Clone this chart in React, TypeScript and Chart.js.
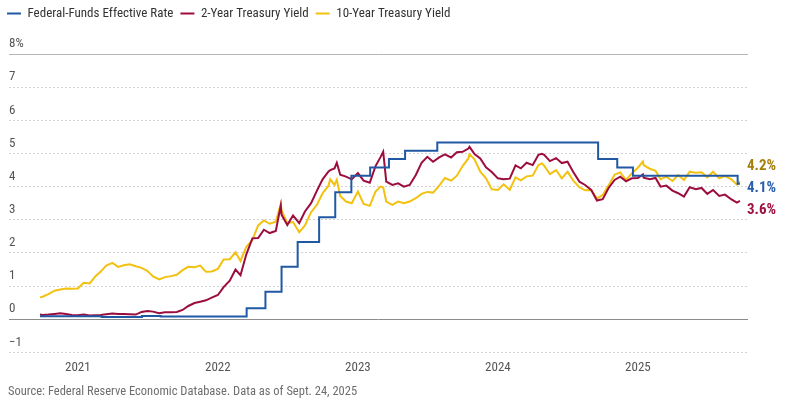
import { useEffect, useRef } from "react";
import { Chart, registerables } from "chart.js";

Chart.register(...registerables);

const FONT = '"Liberation Sans Narrow", "Roboto Condensed", "DejaVu Sans Condensed", "Noto Sans", sans-serif';

const seriesNames = ["Federal-Funds Effective Rate", "2-Year Treasury Yield", "10-Year Treasury Yield"];
const lineColors = ["#2158a4", "#9c0d3e", "#f3c10f"];
const labelColors = ["#2b5fae", "#a0103f", "#a6800f"];
const endLabels = ["4.1%", "3.6%", "4.2%"];
const yearTicks = [2021, 2022, 2023, 2024, 2025];
const yTicks = [-1, 0, 1, 2, 3, 4, 5, 6, 7, 8];
const axisStart = "2020-07-05";
const axisEnd = "2025-10-15";
const sourceText = "Source: Federal Reserve Economic Database. Data as of Sept. 24, 2025";

const fedDates = [
  "2020-09-24", "2021-03-04", "2021-06-17", "2021-08-05", "2022-03-17", "2022-05-05", "2022-06-16",
  "2022-07-28", "2022-09-22", "2022-11-03", "2022-12-15", "2023-02-02", "2023-03-23", "2023-05-04",
  "2023-07-27", "2024-09-19", "2024-11-08", "2024-12-19", "2025-09-18", "2025-09-24",
];
const fedRate = [
  0.09, 0.07, 0.10, 0.08, 0.33, 0.83, 1.58,
  2.33, 3.08, 3.83, 4.33, 4.58, 4.83, 5.08,
  5.33, 4.83, 4.58, 4.33, 4.09, 4.09,
];

const yieldDates = [
  "2020-09-24", "2020-10-01", "2020-10-16", "2020-11-01", "2020-11-16", "2020-12-01", "2020-12-16",
  "2021-01-01", "2021-01-16", "2021-02-01", "2021-02-16", "2021-03-01", "2021-03-16", "2021-04-01", "2021-04-16",
  "2021-05-01", "2021-05-16", "2021-06-01", "2021-06-16", "2021-07-01", "2021-07-16", "2021-08-01", "2021-08-16",
  "2021-09-01", "2021-09-16", "2021-10-01", "2021-10-16", "2021-11-01", "2021-11-16", "2021-12-01", "2021-12-16",
  "2022-01-01", "2022-01-16", "2022-02-01", "2022-02-16", "2022-03-01", "2022-03-16", "2022-04-01", "2022-04-16",
  "2022-05-01", "2022-05-16", "2022-06-01", "2022-06-14", "2022-06-16", "2022-07-01", "2022-07-16", "2022-08-01",
  "2022-08-16", "2022-09-01", "2022-09-16", "2022-10-01", "2022-10-16", "2022-10-21", "2022-11-01", "2022-11-07",
  "2022-11-16", "2022-12-01", "2022-12-16",
  "2023-01-01", "2023-01-16", "2023-02-01", "2023-02-16", "2023-03-01", "2023-03-08", "2023-03-16", "2023-04-01",
  "2023-04-16", "2023-05-01", "2023-05-16", "2023-06-01", "2023-06-16", "2023-07-01", "2023-07-16", "2023-08-01",
  "2023-08-16", "2023-09-01", "2023-09-16", "2023-10-01", "2023-10-16", "2023-10-19", "2023-11-01", "2023-11-16",
  "2023-12-01", "2023-12-16",
  "2024-01-01", "2024-01-16", "2024-02-01", "2024-02-16", "2024-03-01", "2024-03-16", "2024-04-01", "2024-04-16",
  "2024-04-25", "2024-05-01", "2024-05-16", "2024-06-01", "2024-06-16", "2024-07-01", "2024-07-16", "2024-08-01",
  "2024-08-16", "2024-09-01", "2024-09-16", "2024-10-01", "2024-10-16", "2024-11-01", "2024-11-16", "2024-12-01",
  "2024-12-16",
  "2025-01-01", "2025-01-14", "2025-01-16", "2025-02-01", "2025-02-16", "2025-03-01", "2025-03-16", "2025-04-01",
  "2025-04-16", "2025-05-01", "2025-05-16", "2025-06-01", "2025-06-16", "2025-07-01", "2025-07-16", "2025-08-01",
  "2025-08-16", "2025-09-01", "2025-09-16", "2025-09-24",
];

const twoYear = [
  0.14, 0.13, 0.14, 0.16, 0.18, 0.16, 0.13,
  0.12, 0.14, 0.11, 0.12, 0.13, 0.15, 0.17, 0.16,
  0.16, 0.15, 0.14, 0.22, 0.25, 0.23, 0.18, 0.21,
  0.21, 0.22, 0.28, 0.40, 0.49, 0.53, 0.57, 0.65,
  0.73, 0.97, 1.16, 1.50, 1.33, 1.95, 2.44, 2.45,
  2.70, 2.60, 2.66, 3.43, 3.15, 2.84, 3.13, 2.90,
  3.25, 3.50, 3.87, 4.22, 4.45, 4.50, 4.55, 4.72,
  4.36, 4.30, 4.22,
  4.41, 4.18, 4.12, 4.62, 4.89, 5.05, 4.15, 4.05,
  4.10, 4.00, 4.05, 4.35, 4.72, 4.90, 4.75, 4.88,
  4.97, 4.88, 5.04, 5.05, 5.15, 5.20, 4.98, 4.85,
  4.58, 4.44,
  4.25, 4.22, 4.24, 4.64, 4.55, 4.72, 4.65, 4.96,
  4.99, 4.96, 4.77, 4.86, 4.71, 4.75, 4.44, 4.15,
  4.05, 3.90, 3.58, 3.62, 3.95, 4.20, 4.30, 4.16,
  4.25,
  4.26, 4.37, 4.27, 4.22, 4.26, 4.00, 4.03, 3.88,
  3.80, 3.70, 3.98, 3.92, 3.96, 3.78, 3.90, 3.72,
  3.76, 3.62, 3.52, 3.57,
];

const tenYear = [
  0.66, 0.68, 0.76, 0.86, 0.90, 0.93, 0.92,
  0.93, 1.10, 1.08, 1.30, 1.43, 1.62, 1.70, 1.58,
  1.63, 1.66, 1.60, 1.55, 1.46, 1.29, 1.20, 1.27,
  1.30, 1.34, 1.48, 1.58, 1.57, 1.62, 1.43, 1.44,
  1.52, 1.80, 1.81, 2.02, 1.76, 2.18, 2.39, 2.83,
  2.98, 2.88, 2.94, 3.48, 3.28, 2.90, 2.93, 2.62,
  2.83, 3.23, 3.45, 3.80, 4.02, 4.22, 4.05, 4.21,
  3.72, 3.55, 3.50,
  3.85, 3.48, 3.42, 3.85, 4.00, 3.98, 3.55, 3.45,
  3.55, 3.50, 3.55, 3.65, 3.78, 3.84, 3.82, 4.03,
  4.26, 4.18, 4.33, 4.62, 4.85, 4.98, 4.82, 4.45,
  4.25, 3.92,
  3.90, 4.07, 3.90, 4.28, 4.19, 4.31, 4.33, 4.65,
  4.70, 4.63, 4.38, 4.50, 4.25, 4.45, 4.18, 3.98,
  3.89, 3.90, 3.64, 3.75, 4.03, 4.36, 4.43, 4.20,
  4.40,
  4.57, 4.76, 4.65, 4.54, 4.48, 4.22, 4.30, 4.17,
  4.35, 4.20, 4.45, 4.42, 4.43, 4.28, 4.45, 4.25,
  4.32, 4.23, 4.06, 4.16,
];

function toYear(d: string): number {
  const [y, m, day] = d.split("-").map(Number);
  const start = Date.UTC(y, 0, 1);
  const end = Date.UTC(y + 1, 0, 1);
  return y + (Date.UTC(y, m - 1, day) - start) / (end - start);
}

function pairs(dates: string[], values: number[]) {
  return dates.map((d, i) => ({ x: toYear(d), y: values[i] }));
}

const extrasPlugin = {
  id: "extras",
  beforeInit(chart: any) {
    const legend = chart.legend;
    if (legend && !legend._patched) {
      const fit = legend.fit;
      legend.fit = function () {
        fit.call(this);
        this.height += 24;
      };
      legend._patched = true;
    }
  },
  afterDatasetsDraw(chart: any) {
    const { ctx, chartArea } = chart;
    const items = chart.data.datasets.map((ds: any, i: number) => {
      const meta = chart.getDatasetMeta(i);
      const last = meta.data[meta.data.length - 1];
      return { i, y: last.y };
    });
    const sorted = [...items].sort((a: any, b: any) => a.y - b.y);
    const gap = 22;
    const orig = sorted.map((s: any) => s.y);
    const adj = orig.slice();
    for (let k = 1; k < adj.length; k++) {
      if (adj[k] < adj[k - 1] + gap) adj[k] = adj[k - 1] + gap;
    }
    const meanO = orig.reduce((a: number, b: number) => a + b, 0) / orig.length;
    const meanA = adj.reduce((a: number, b: number) => a + b, 0) / adj.length;
    const shift = meanO - meanA;
    ctx.save();
    ctx.font = `bold 15px ${FONT}`;
    ctx.textAlign = "left";
    ctx.textBaseline = "middle";
    sorted.forEach((s: any, k: number) => {
      ctx.fillStyle = labelColors[s.i];
      ctx.fillText(endLabels[s.i], chartArea.right - 1, adj[k] + shift);
    });
    ctx.restore();
  },
  afterDraw(chart: any) {
    const { ctx } = chart;
    ctx.save();
    ctx.font = `12.5px ${FONT}`;
    ctx.fillStyle = "#6e6e6e";
    ctx.textAlign = "left";
    ctx.textBaseline = "middle";
    ctx.fillText(sourceText, 8, 392);
    ctx.restore();
  },
};

export default function App() {
  const ref = useRef<HTMLCanvasElement | null>(null);

  useEffect(() => {
    if (!ref.current) return;
    const chart = new Chart(ref.current, {
      type: "line",
      data: {
        datasets: [
          {
            label: seriesNames[0],
            data: pairs(fedDates, fedRate),
            borderColor: lineColors[0],
            backgroundColor: lineColors[0],
            borderWidth: 2,
            stepped: "before",
            pointRadius: 0,
            pointHoverRadius: 0,
          },
          {
            label: seriesNames[1],
            data: pairs(yieldDates, twoYear),
            borderColor: lineColors[1],
            backgroundColor: lineColors[1],
            borderWidth: 2,
            pointRadius: 0,
            pointHoverRadius: 0,
            tension: 0,
          },
          {
            label: seriesNames[2],
            data: pairs(yieldDates, tenYear),
            borderColor: lineColors[2],
            backgroundColor: lineColors[2],
            borderWidth: 2,
            pointRadius: 0,
            pointHoverRadius: 0,
            tension: 0,
          },
        ],
      },
      options: {
        responsive: false,
        animation: false,
        events: [],
        layout: { padding: { top: 0, right: 38, bottom: 22, left: 0 } },
        scales: {
          x: {
            type: "linear",
            min: toYear(axisStart),
            max: toYear(axisEnd),
            afterBuildTicks: (scale: any) => {
              scale.ticks = yearTicks.map((v) => ({ value: v }));
            },
            ticks: {
              autoSkip: false,
              maxRotation: 0,
              padding: 8,
              color: "#555555",
              font: { family: FONT, size: 13 },
              callback: (v: any) => String(v),
            },
            grid: { display: false, drawTicks: false },
            border: { display: false },
          },
          y: {
            type: "linear",
            position: "left",
            min: yTicks[0],
            max: yTicks[yTicks.length - 1],
            afterBuildTicks: (scale: any) => {
              scale.ticks = yTicks.map((v) => ({ value: v }));
            },
            afterFit: (scale: any) => {
              scale.width = 9;
            },
            ticks: {
              mirror: true,
              padding: 0,
              labelOffset: -10,
              color: "#555555",
              font: { family: FONT, size: 13 },
              callback: (v: any) => (v === 8 ? "8%" : v < 0 ? "\u2212" + Math.abs(v) : String(v)),
            },
            grid: {
              drawTicks: false,
              color: (c: any) =>
                c.tick && c.tick.value === 0 ? "#8c8c8c" : c.tick && c.tick.value === 8 ? "#b5b5b5" : "#d2d2d2",
              lineWidth: 1,
            },
            border: {
              display: false,
              dash: (c: any) => (c.tick && (c.tick.value === 0 || c.tick.value === 8) ? [] : [2, 2]),
            },
          },
        },
        plugins: {
          legend: {
            display: true,
            position: "top",
            align: "start",
            labels: {
              usePointStyle: true,
              pointStyle: "line",
              pointStyleWidth: 14,
              padding: 7,
              color: "#333333",
              font: { family: FONT, size: 13 },
            },
          },
          title: { display: false },
          tooltip: { enabled: false },
        },
      },
      plugins: [extrasPlugin],
    } as any);
    return () => chart.destroy();
  }, []);

  return (
    <div style={{ position: "fixed", left: 0, top: 0, width: 786, height: 406, background: "#ffffff" }}>
      <canvas ref={ref} width={786} height={406} style={{ display: "block", width: 786, height: 406 }} />
    </div>
  );
}
